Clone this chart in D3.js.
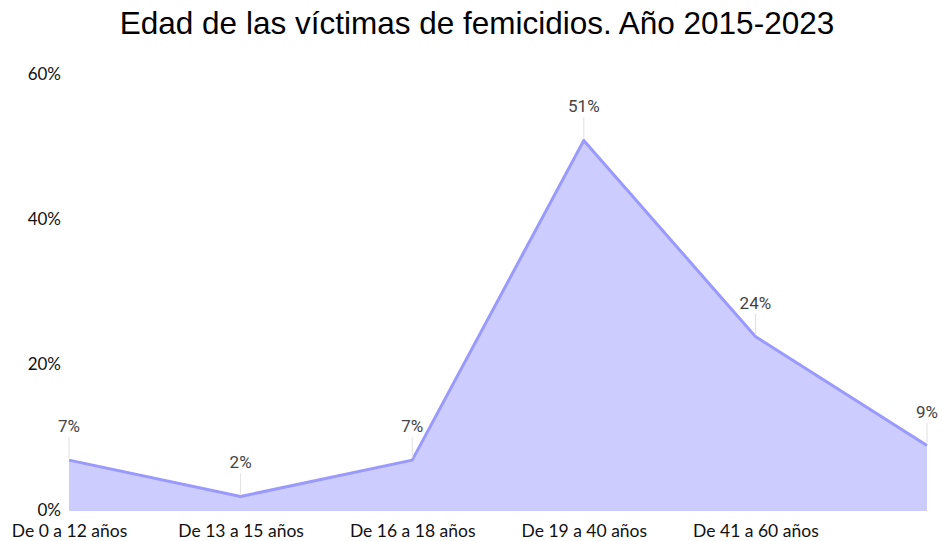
<!DOCTYPE html>
<html>
<head>
<meta charset="utf-8">
<script src="https://cdn.jsdelivr.net/npm/d3@7"></script>
<style>
  body { margin: 0; background: #fff; }
</style>
</head>
<body>
<div id="chart"></div>
<script>

// data
const categories = ['De 0 a 12 años', 'De 13 a 15 años', 'De 16 a 18 años', 'De 19 a 40 años', 'De 41 a 60 años', 'Más de 60 años']
const values = [0.07, 0.02, 0.07, 0.51, 0.24, 0.09]
const yTicks = [0, 0.2, 0.4, 0.6]

const chart = {
  width: 942,
  height: 541,
  left: 69,
  right: 927,
  top: 75,
  bottom: 511
}

const svg = d3.select('#chart')
  .append('svg')
    .attr('width', chart.width)
    .attr('height', chart.height)

const xScale = d3.scalePoint()
  .domain(categories)
  .range([chart.left, chart.right])

const yScale = d3.scaleLinear()
  .domain([0, 0.6])
  .range([chart.bottom, chart.top])

const data = categories.map((c, i) => ({cat: c, val: values[i]}))

// title
svg.append('text')
  .attr('x', 477)
  .attr('y', 34)
  .attr('text-anchor', 'middle')
  .style('font-family', 'Liberation Sans, Arial, sans-serif')
  .style('font-size', '31.5px')
  .attr('fill', '#000')
  .text('Edad de las víctimas de femicidios. Año 2015-2023')

// area + line
const area = d3.area()
  .x(d => xScale(d.cat))
  .y0(yScale(0))
  .y1(d => yScale(d.val))

const line = d3.line()
  .x(d => xScale(d.cat))
  .y(d => yScale(d.val))

svg.append('path')
  .datum(data)
  .attr('d', area)
  .attr('fill', '#ccccff')

svg.append('path')
  .datum(data)
  .attr('d', line)
  .attr('fill', 'none')
  .attr('stroke', '#9999ff')
  .attr('stroke-width', 3)
  .attr('stroke-linejoin', 'round')

// y axis labels
const yAxis = svg.append('g')
  .attr('transform', 'translate(61,0)')
  .call(d3.axisLeft(yScale).tickValues(yTicks).tickFormat(d3.format('.0%')).tickSize(0).tickPadding(0))
yAxis.select('.domain').remove()
yAxis.selectAll('text')
  .style('font-family', 'Lato, sans-serif')
  .style('font-size', '17px')
  .attr('fill', '#111')
  .attr('dy', '0.25em')

// x axis labels
const xAxis = svg.append('g')
  .attr('transform', `translate(0,${chart.bottom})`)
  .call(d3.axisBottom(xScale).tickSize(0).tickPadding(12))
xAxis.select('.domain').remove()
xAxis.selectAll('text')
  .style('font-family', 'Lato, sans-serif')
  .style('font-size', '17.5px')
  .attr('fill', '#111')
  .attr('dy', '0.8em')
xAxis.selectAll('.tick')
  .filter(d => xScale(d) > chart.right - 10)
  .remove()

// value labels with leader lines
const labels = svg.append('g')
  .selectAll('g')
  .data(data)
  .join('g')
    .attr('transform', d => `translate(${xScale(d.cat)},${yScale(d.val)})`)

labels.append('line')
  .attr('y1', -2)
  .attr('y2', -23)
  .attr('stroke', '#e0e0e0')
  .attr('stroke-width', 1)

labels.append('text')
  .attr('y', -28)
  .attr('text-anchor', 'middle')
  .style('font-family', 'Roboto, sans-serif')
  .style('font-size', '17px')
  .attr('fill', '#444')
  .text(d => d3.format('.0%')(d.val))

</script>
</body>
</html>
